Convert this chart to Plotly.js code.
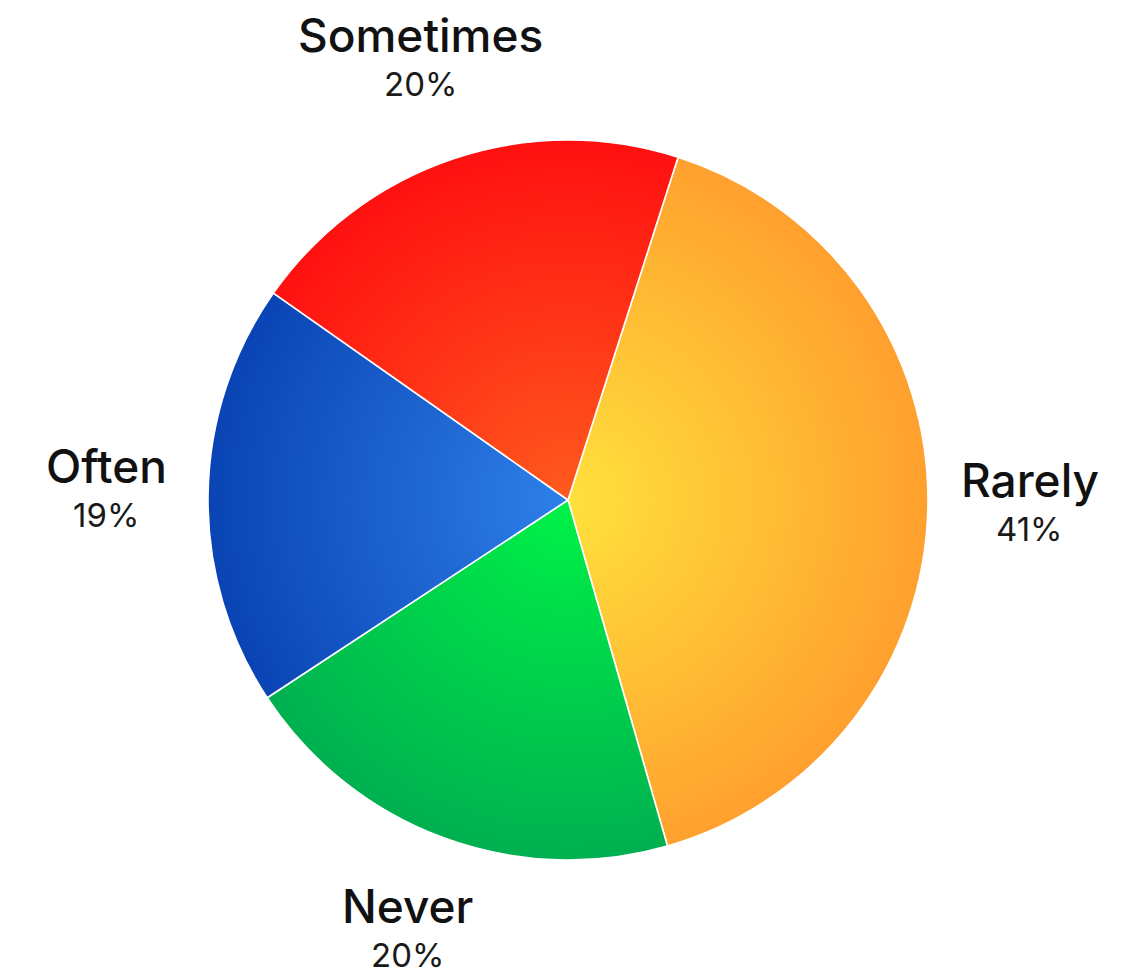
<!DOCTYPE html>
<html>
<head>
<meta charset="utf-8">
<script src="https://cdn.plot.ly/plotly-3.0.1.min.js"></script>
<style>
  html, body { margin: 0; padding: 0; background: #fff; }
  #chart { width: 1127px; height: 977px; }
</style>
</head>
<body>
<div id="chart"></div>
<script>
// ---- data ----
const categories = ['Rarely', 'Never', 'Often', 'Sometimes'];
const values = [40.6, 20.2, 19.0, 20.2];
const innerColors = ['#FFE13C', '#00F247', '#2E80EA', '#FF5A1E'];
const outerColors = ['#FFA02E', '#00B050', '#0A44B4', '#FF1010'];
const baseColors = ['#FFC035', '#00D04C', '#1A60D0', '#FF3418'];

// ---- layout constants ----
const W = 1127, H = 977;
const CX = 568, CY = 500, R = 360;
const ROTATION = 17.8;
const LABEL_R = 462;
const FONT = 'Inter, "Open Sans", "DejaVu Sans", sans-serif';

const total = values.reduce((a, b) => a + b, 0);

// label annotations placed on the slice mid-angles computed from values
const annotations = [];
let ang = ROTATION;
values.forEach((v, i) => {
  const span = v / total * 360;
  const mid = (ang + span / 2) * Math.PI / 180;
  ang += span;
  const px = CX + LABEL_R * Math.sin(mid);
  const py = CY - LABEL_R * Math.cos(mid);
  const xp = px / W, yp = 1 - py / H;
  annotations.push({
    xref: 'paper', yref: 'paper', x: xp, y: yp, showarrow: false,
    text: categories[i], xanchor: 'center', yanchor: 'middle', yshift: 27,
    font: { family: FONT, size: 46, color: '#111111', weight: 500 }
  });
  annotations.push({
    xref: 'paper', yref: 'paper', x: xp, y: yp, showarrow: false,
    text: Math.round(v / total * 100) + '%', xanchor: 'center', yanchor: 'middle', yshift: -22,
    font: { family: FONT, size: 33, color: '#1a1a1a', weight: 400 }
  });
});

const trace = {
  type: 'pie',
  labels: categories,
  values: values,
  sort: false,
  direction: 'clockwise',
  rotation: ROTATION,
  textinfo: 'none',
  hoverinfo: 'none',
  marker: { colors: baseColors, line: { color: '#ffffff', width: 1.6 } },
  domain: { x: [(CX - R) / W, (CX + R) / W], y: [1 - (CY + R) / H, 1 - (CY - R) / H] },
  showlegend: false
};

const layout = {
  width: W, height: H,
  margin: { l: 0, r: 0, t: 0, b: 0 },
  paper_bgcolor: '#ffffff',
  showlegend: false,
  annotations: annotations
};

const gd = document.getElementById('chart');
Plotly.newPlot(gd, [trace], layout, { staticPlot: true, displayModeBar: false }).then(() => {
  const cd0 = gd.calcdata[0][0];
  const cx = cd0.cx, cy = cd0.cy, r = cd0.r;
  const svg = gd.querySelector('svg.main-svg');
  const ns = 'http://www.w3.org/2000/svg';
  let defs = svg.querySelector('defs');
  if (!defs) { defs = document.createElementNS(ns, 'defs'); svg.insertBefore(defs, svg.firstChild); }
  categories.forEach((c, i) => {
    const g = document.createElementNS(ns, 'radialGradient');
    g.setAttribute('id', 'slicegrad' + i);
    g.setAttribute('gradientUnits', 'userSpaceOnUse');
    g.setAttribute('cx', cx); g.setAttribute('cy', cy);
    g.setAttribute('fx', cx); g.setAttribute('fy', cy);
    g.setAttribute('r', r);
    [[0, innerColors[i]], [1, outerColors[i]]].forEach(([o, col]) => {
      const s = document.createElementNS(ns, 'stop');
      s.setAttribute('offset', o);
      s.setAttribute('stop-color', col);
      g.appendChild(s);
    });
    defs.appendChild(g);
  });
  gd.querySelectorAll('g.slice path.surface').forEach((p) => {
    const pt = p.__data__;
    const idx = pt && pt.i !== undefined ? pt.i : 0;
    p.style.fill = 'url(#slicegrad' + idx + ')';
  });
});
</script>
</body>
</html>
